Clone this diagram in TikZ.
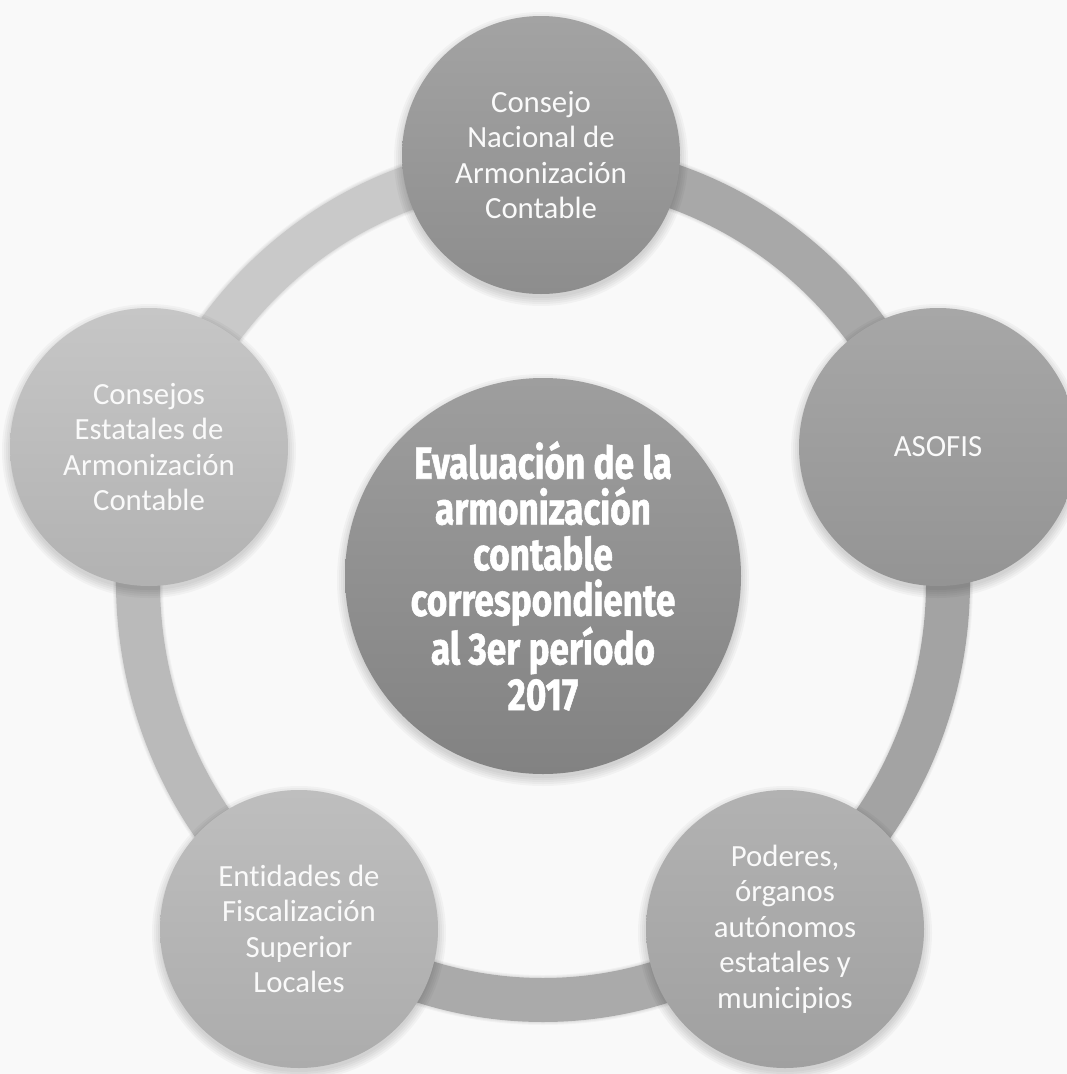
\documentclass[tikz,border=0pt]{standalone}
\usepackage{fontspec}
\setmainfont{Carlito}[Ligatures=NoCommon]
\newfontfamily\hubfont{Fira Sans}[FakeStretch=0.78, BoldFeatures={FakeBold=1.2}]
\definecolor{bg}{RGB}{249,249,249}
\definecolor{ringA}{RGB}{168,168,168}
\definecolor{ringB}{RGB}{163,163,163}
\definecolor{ringC}{RGB}{170,170,170}
\definecolor{ringD}{RGB}{186,186,186}
\definecolor{ringE}{RGB}{201,201,201}
\definecolor{txt}{RGB}{250,250,250}
\definecolor{hubT}{RGB}{158,158,158}
\definecolor{hubB}{RGB}{130,130,130}
\begin{document}
\begin{tikzpicture}[x=1pt,y=-1pt,
  bub/.style={circle, minimum size=278pt, inner sep=0pt, align=center,
    text=txt, font=\fontsize{30.8}{35.5}\selectfont},
  hub/.style={circle, minimum size=396pt, inner sep=0pt, align=center,
    text=white, font=\hubfont\bfseries\fontsize{45}{45.7}\selectfont,
    top color=hubT, bottom color=hubB},
  ringseg/.style={line width=44pt},
  shade/.style={black, fill opacity=0.03}
]
\fill[bg] (0,0) rectangle (1067,1074);
\useasboundingbox (0,0) rectangle (1067,1074);

\coordinate (ringc) at (543,582);
\coordinate (ptop) at (541,155);
\coordinate (pright) at (938,447);
\coordinate (pbright) at (785,929);
\coordinate (pbleft) at (299,929);
\coordinate (pleft) at (149,447);
\coordinate (pcenter) at (543,576);

% ring shadow
\foreach \w in {46pt,48pt,50pt}{
  \draw[line width=\w, black, opacity=0.03, yshift=-2pt]
    (ringc) ++(0:405 and 418) arc[start angle=0, end angle=360, x radius=405, y radius=418];
}
% ring segments
\foreach \s/\e/\c in {-90/-18/ringA, -18/54/ringB, 54/126/ringC, 126/198/ringD, 198/270/ringE}{
  \draw[ringseg, draw=\c]
    (ringc) ++(\s:405 and 418) arc[start angle=\s, end angle=\e, x radius=405, y radius=418];
}

% soft shadows of the outer circles
\foreach \n in {ptop,pright,pbright,pbleft,pleft}{
  \foreach \r in {139,141,143,145,147}{
    \fill[shade] ([yshift=-4pt]\n) circle (\r);
  }
}

\node[bub, top color={rgb,255:red,163;green,163;blue,163}, bottom color={rgb,255:red,141;green,141;blue,141}]
  (top) at (ptop) {Consejo\\Nacional de\\Armonización\\Contable};
\node[bub, top color={rgb,255:red,167;green,167;blue,167}, bottom color={rgb,255:red,148;green,148;blue,148}]
  (right) at (pright) {ASOFIS};
\node[bub, top color={rgb,255:red,178;green,178;blue,178}, bottom color={rgb,255:red,160;green,160;blue,160}]
  (bright) at (pbright) {Poderes,\\órganos\\autónomos\\estatales y\\municipios};
\node[bub, top color={rgb,255:red,190;green,190;blue,190}, bottom color={rgb,255:red,172;green,172;blue,172}]
  (bleft) at (pbleft) {Entidades de\\Fiscalización\\Superior\\Locales};
\node[bub, top color={rgb,255:red,198;green,198;blue,198}, bottom color={rgb,255:red,178;green,178;blue,178}]
  (left) at (pleft) {Consejos\\Estatales de\\Armonización\\Contable};

% soft shadow of the hub
\foreach \r in {198,200,202,204,206}{
  \fill[shade] ([yshift=-4pt]pcenter) circle (\r);
}
\node[hub] (center) at (pcenter) {Evaluación de la\\armonización\\contable\\correspondiente\\al 3er período\\2017};
\end{tikzpicture}
\end{document}
